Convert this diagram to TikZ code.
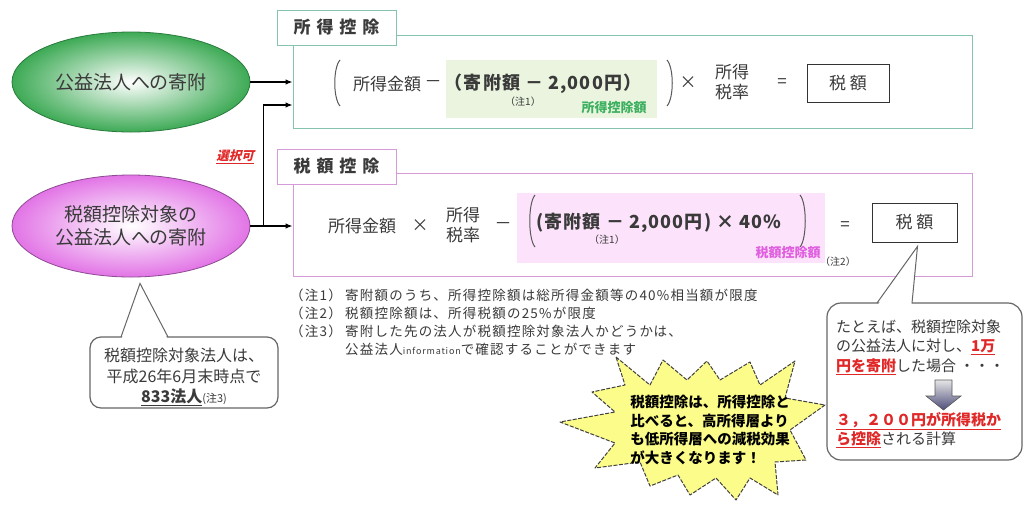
\documentclass[tikz,border=0pt]{standalone}
\usepackage{fontspec}
\setmainfont{Noto Sans CJK JP}
\newfontfamily\tabfont[LetterSpace=35]{Noto Sans CJK JP}
\newfontfamily\slantfont[FakeSlant=0.25]{Noto Sans CJK JP}
\newfontfamily\notefont[LetterSpace=9]{Noto Sans CJK JP}
\newfontfamily\formfont[LetterSpace=6]{Noto Sans CJK JP}
\usetikzlibrary{shapes.geometric,calc,arrows.meta}
\definecolor{txt}{HTML}{3A3A3A}
\definecolor{grn}{HTML}{3DAA55}
\definecolor{grnd}{HTML}{2A7A3E}
\definecolor{pnk}{HTML}{E274E6}
\definecolor{pnkd}{HTML}{8E4A92}
\definecolor{topline}{HTML}{86C3AE}
\definecolor{botline}{HTML}{D69AD8}
\definecolor{grnfill}{HTML}{EAF4DF}
\definecolor{pnkfill}{HTML}{FCE2FA}
\definecolor{grnlab}{HTML}{3DB060}
\definecolor{pnklab}{HTML}{E05EE0}
\definecolor{redtxt}{HTML}{E02828}
\definecolor{star}{HTML}{FCFC8A}
\newcommand{\hl}[1]{{\color{redtxt}\bfseries\underline{#1}}}
\begin{document}
\begin{tikzpicture}[x=1pt,y=-1pt,
  every node/.style={text=txt, inner sep=0pt},
  ell/.style={ellipse, minimum width=238pt, minimum height=100pt, align=center,
    font=\fontsize{19}{23}\selectfont, line width=0.8pt},
  mainbox/.style={draw, line width=1pt, minimum width=679pt},
  tabbox/.style={draw, fill=white, line width=1pt, minimum width=119pt, minimum height=35pt,
    font=\tabfont\bfseries\fontsize{17}{20}\selectfont},
  taxbox/.style={draw=black!80, line width=0.8pt, font=\fontsize{17}{20}\selectfont},
  ftxt/.style={font=\fontsize{17}{20}\selectfont},
  ftwo/.style={font=\fontsize{17}{20}\selectfont, align=center},
  btxt/.style={font=\formfont\bfseries\fontsize{18}{21}\selectfont},
  small/.style={font=\fontsize{10}{12}\selectfont},
  brk/.style={line width=1pt, draw=black!65},
  arr/.style={-{Latex[length=7pt,width=5.5pt]}, line width=1.2pt, draw=black},
  notelab/.style={font=\notefont\fontsize{13.5}{16}\selectfont, anchor=west},
  calltxt/.style={font=\fontsize{15}{18}\selectfont, anchor=west},
  callbox/.style={draw=black!60, line width=1.2pt, fill=white},
  pointer/.style={draw=black!60, line width=1pt}
]
\useasboundingbox[fill=white] (0,0) rectangle (1026,507);

% ellipses
\node[ell, inner color=white, outer color=grn, draw=grnd] (g) at (131,82) {公益法人への寄附};
\node[ell, inner color=white, outer color=pnk, draw=pnkd, minimum height=102pt] (p) at (131,226) {税額控除対象の\\公益法人への寄附};

% boxes
\node[mainbox, draw=topline, minimum height=93pt] (topbox) at (632.5,81.5) {};
\node[tabbox, draw=topline] (toptab) at (336.5,27.5) {所得控除};
\node[mainbox, draw=botline, minimum height=103pt] (botbox) at (632.5,224.5) {};
\node[tabbox, draw=botline] (bottab) at (336.5,166.5) {税額控除};

% connectors
\draw[arr] (g.east) -- (g.east -| topbox.west);
\draw[arr] (p.east) -- (p.east -| botbox.west);
\coordinate (split) at ($(p.east)+(13,0)$);
\coordinate (tin) at ($(topbox.west)+(0,23.5)$);
\draw[arr] (split) |- (tin);
\node[font=\slantfont\bfseries\fontsize{12.5}{14}\selectfont, text=redtxt] (sel) at (235,157) {\underline{選択可}};

% top formula
\node[fill=grnfill, minimum width=211pt, minimum height=58pt] (gshade) at (551.5,89) {};
\draw[brk] (340,60) .. controls (333,68) and (333,98) .. (340,106);
\draw[brk] (667,60) .. controls (674,68) and (674,98) .. (667,106);
\node[ftxt] (t1) at (387,84) {所得金額};
\node[ftxt] (t2) at (433,84) {－};
\node[btxt] (t3) at (543,84) {（寄附額 － 2,000円）};
\node[small] (t4) at (523,102) {（注1）};
\node[font=\bfseries\fontsize{13}{15}\selectfont, text=grnlab] (t5) at (614,108) {所得控除額};
\node[ftxt] (t6) at (688,83) {×};
\node[ftwo] (t7) at (732,82) {所得\\税率};
\node[ftxt] (t8) at (782,83) {=};
\node[taxbox, minimum width=82pt, minimum height=38pt] (tax1) at (848,83) {税 額};

% bottom formula
\node[fill=pnkfill, minimum width=308pt, minimum height=70pt] (pshade) at (671,228) {};
\draw[brk] (535,195) .. controls (528,203) and (528,239) .. (535,247);
\draw[brk] (800,195) .. controls (807,203) and (807,239) .. (800,247);
\node[ftxt] (b1) at (362,226) {所得金額};
\node[ftxt] (b2) at (420,226) {×};
\node[ftwo] (b3) at (463,225) {所得\\税率};
\node[ftxt] (b4) at (503,226) {－};
\node[btxt] (b5) at (659,223) {(寄附額 － 2,000円) × 40\%};
\node[small] (b6) at (607,240) {（注1）};
\node[font=\bfseries\fontsize{13}{15}\selectfont, text=pnklab] (b7) at (788,253) {税額控除額};
\node[small] (b8) at (838,262) {（注2）};
\node[ftxt] (b9) at (845,226) {=};
\node[taxbox, minimum width=85pt, minimum height=39pt] (tax2) at (914.5,222.5) {税 額};

% notes
\node[notelab] (n1l) at (290,295) {（注1）};
\node[notelab] (n1) at (345,295) {寄附額のうち、所得控除額は総所得金額等の40\%相当額が限度};
\node[notelab] (n2l) at (290,313) {（注2）};
\node[notelab] (n2) at (345,313) {税額控除額は、所得税額の25\%が限度};
\node[notelab] (n3l) at (290,331) {（注3）};
\node[notelab] (n3) at (345,331) {寄附した先の法人が税額控除対象法人かどうかは、};
\node[notelab] (n4) at (345,349) {公益法人{\fontsize{9}{10}\selectfont information}で確認することができます};

% left callout
\node[callbox, rounded corners=11pt, minimum width=188pt, minimum height=71pt] (lc) at (184,372.5) {};
\coordinate (lctip) at ($(p.south)+(9,6)$);
\fill[white] (121.5,339) -- (lctip) -- (167.5,339) -- cycle;
\draw[pointer] (121,337) -- (lctip) -- (168,337);
\node[align=center, font=\fontsize{16}{20.5}\selectfont] (lct) at (184,377) {税額控除対象法人は、\\平成26年6月末時点で\\{\bfseries\underline{833法人}}{\fontsize{11}{12}\selectfont (注3)}};

% starburst
\filldraw[fill=star, draw=black!75, line width=1pt, dash pattern=on 4pt off 1.5pt, line join=round]
 (616,357) -- (650,385) -- (663,360) -- (687,380) -- (707,361) -- (720,380) -- (750,362) -- (760,385)
 -- (795,361) -- (785,398) -- (825,405) -- (790,430) -- (806,460) -- (775,462) -- (778,495)
 -- (750,478) -- (736,500) -- (716,478) -- (690,495) -- (678,475) -- (650,486) -- (640,462)
 -- (595,468) -- (615,443) -- (560,422) -- (615,412) -- (592,392) -- (625,385) -- cycle;
\node[align=left, font=\bfseries\fontsize{14.5}{18.7}\selectfont, text=black] (st) at (710,430) {税額控除は、所得控除と\\比べると、高所得層より\\も低所得層への減税効果\\が大きくなります！};

% right callout
\node[callbox, rounded corners=14pt, minimum width=195pt, minimum height=157pt] (rc) at (924.5,381.5) {};
\coordinate (rctip) at ($(tax2.south)+(3,4)$);
\fill[white] (877.8,305) -- (rctip) -- (911.5,305) -- cycle;
\draw[pointer] (877,303) -- (rctip) -- (912,303);
\node[calltxt] (r1) at (836,327) {たとえば、税額控除対象};
\node[calltxt] (r2) at (836,347) {の公益法人に対し、\hl{1万}};
\node[calltxt] (r3) at (836,367) {\hl{円を寄附}した場合 ・・・};
\path[draw=gray!70!black, line width=0.6pt, top color=gray!20, bottom color=black!55!blue!40!gray]
 (935,380) -- (952,380) -- (952,396) -- (961,396) -- (943.5,410) -- (926,396) -- (935,396) -- cycle;
\node[calltxt] (r4) at (836,421) {\hl{３，２００円が所得税か}};
\node[calltxt] (r5) at (836,440) {\hl{ら控除}される計算};
\end{tikzpicture}
\end{document}
